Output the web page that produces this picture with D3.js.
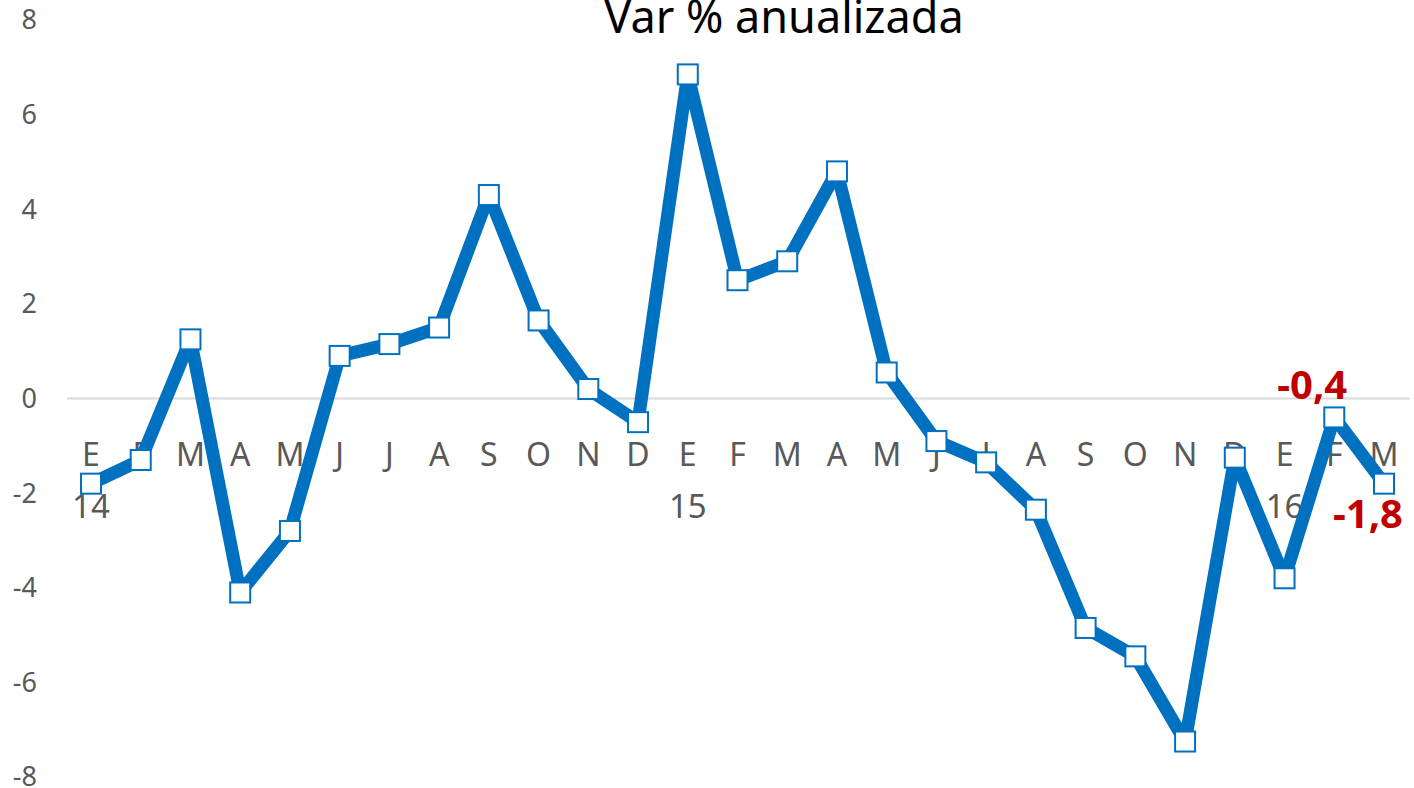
<!DOCTYPE html>
<html>
<head>
<meta charset="utf-8">
<script src="https://cdn.jsdelivr.net/npm/d3@7"></script>
<style>
  body { margin: 0; background: #fff; }
  svg { display: block; font-family: "Noto Sans", sans-serif; }
</style>
</head>
<body>
<script>
// Monthly labels (Spanish initials) and year markers
const months = ['E','F','M','A','M','J','J','A','S','O','N','D',
                'E','F','M','A','M','J','J','A','S','O','N','D',
                'E','F','M'];
const years = ['14','','','','','','','','','','','',
               '15','','','','','','','','','','','',
               '16','',''];
// Var % anualizada, Jan 2014 - Mar 2016
const values = [-1.8, -1.3, 1.25, -4.1, -2.8, 0.9, 1.15, 1.5, 4.3, 1.65, 0.2, -0.5,
                6.85, 2.5, 2.9, 4.8, 0.55, -0.9, -1.35, -2.35, -4.85, -5.45, -7.25, -1.25,
                -3.8, -0.4, -1.8];
const yTicks = [-8, -6, -4, -2, 0, 2, 4, 6, 8];
// last two points get a red label
const labelled = [{ i: 25, text: '-0,4', dx: -22, dy: -18 }, { i: 26, text: '-1,8', dx: -16, dy: 44 }];

const width = 1414, height = 788;
const blue = '#0070C0';

const svg = d3.select('body').append('svg')
    .attr('width', width)
    .attr('height', height);

const idx = d3.range(values.length);
const x = d3.scalePoint().domain(idx).range([91, 1384]);
const y = d3.scaleLinear().domain([-8, 8]).range([777, 20]);

// y tick labels
svg.append('g').selectAll('text')
    .data(yTicks)
    .enter().append('text')
    .attr('x', 37)
    .attr('y', d => y(d))
    .attr('dy', '0.35em')
    .attr('text-anchor', 'end')
    .attr('font-size', 27)
    .attr('fill', '#595959')
    .text(d => d);

// zero line
svg.append('line')
    .attr('x1', 67).attr('x2', 1410)
    .attr('y1', y(0)).attr('y2', y(0))
    .attr('stroke', '#d9d9d9')
    .attr('stroke-width', 2);

// month & year labels (drawn under the line)
svg.append('g').selectAll('text')
    .data(idx)
    .enter().append('text')
    .attr('x', d => x(d))
    .attr('y', 466)
    .attr('text-anchor', 'middle')
    .attr('font-size', 32)
    .attr('fill', '#595959')
    .text(d => months[d]);

svg.append('g').selectAll('text')
    .data(idx.filter(d => years[d]))
    .enter().append('text')
    .attr('x', d => x(d))
    .attr('y', 518)
    .attr('text-anchor', 'middle')
    .attr('font-size', 33)
    .attr('fill', '#595959')
    .text(d => years[d]);

// title (top is clipped in the original too)
svg.append('text')
    .attr('x', 784)
    .attr('y', 33)
    .attr('text-anchor', 'middle')
    .attr('font-size', 45)
    .attr('fill', '#000')
    .text('Var % anualizada');

// series line
const line = d3.line()
    .x((d, i) => x(i))
    .y(d => y(d));

svg.append('path')
    .datum(values)
    .attr('d', line)
    .attr('fill', 'none')
    .attr('stroke', blue)
    .attr('stroke-width', 13)
    .attr('stroke-linejoin', 'round');

// square markers
svg.append('g').selectAll('rect')
    .data(values)
    .enter().append('rect')
    .attr('x', (d, i) => x(i) - 10)
    .attr('y', d => y(d) - 10)
    .attr('width', 20)
    .attr('height', 20)
    .attr('fill', '#fff')
    .attr('stroke', blue)
    .attr('stroke-width', 2);

// data labels
svg.append('g').selectAll('text')
    .data(labelled)
    .enter().append('text')
    .attr('x', d => x(d.i) + d.dx)
    .attr('y', d => y(values[d.i]) + d.dy)
    .attr('text-anchor', 'middle')
    .attr('font-size', 40)
    .attr('font-weight', 'bold')
    .attr('fill', '#C00000')
    .text(d => d.text);
</script>
</body>
</html>
